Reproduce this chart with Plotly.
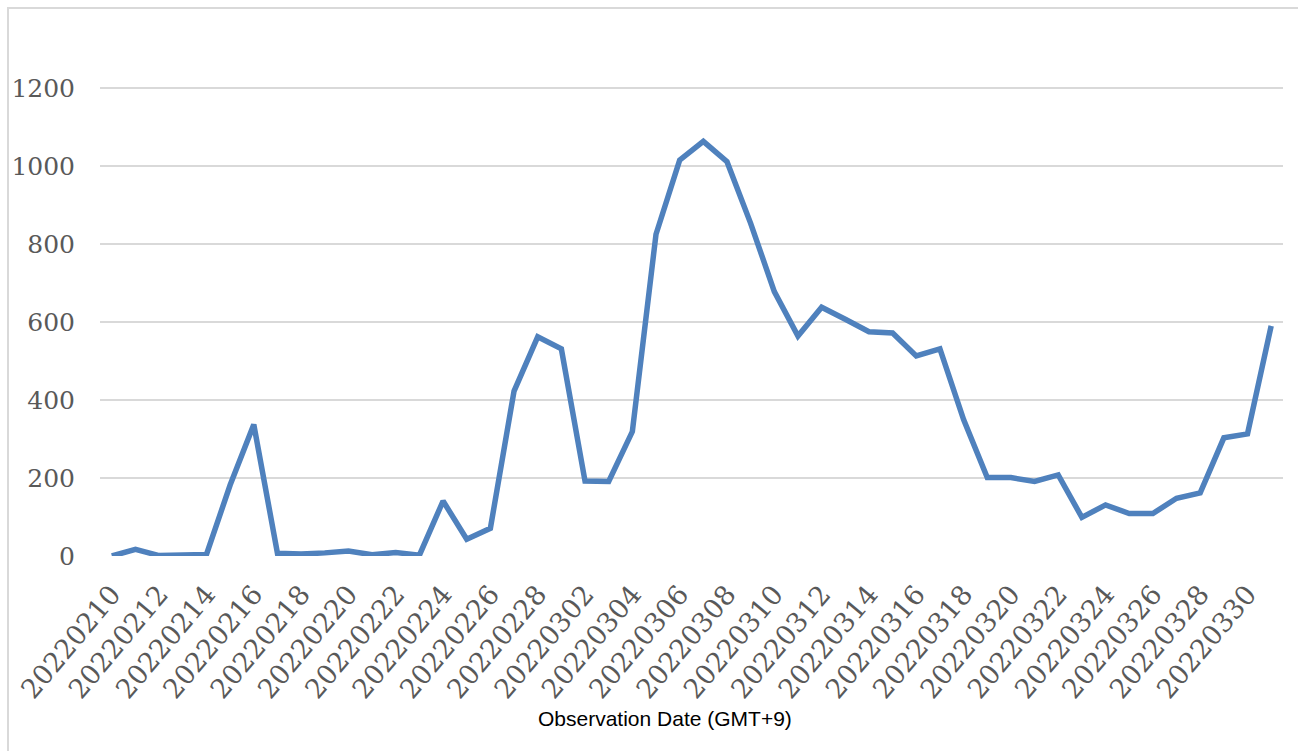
import pandas as pd
import plotly.graph_objects as go

# Daily observation dates (GMT+9), 2022-02-10 .. 2022-03-31
dates = [d.strftime("%Y%m%d") for d in pd.date_range("2022-02-10", "2022-03-31", freq="D")]

# Daily counts
counts = [
    0, 17, 1, 2, 4, 182, 337, 7, 5, 8,
    13, 3, 9, 2, 141, 43, 71, 423, 562, 531,
    192, 191, 319, 825, 1015, 1063, 1011, 853, 678, 564,
    638, 607, 575, 572, 513, 531, 350, 201, 201, 191,
    208, 99, 131, 109, 109, 148, 162, 303, 313, 590,
]

# Every second date is labelled on the axis
tick_labels = dates[::2]
y_ticks = [0, 200, 400, 600, 800, 1000, 1200]

W, H = 1298, 751
L, R, T, B = 100, 15, 10, 195
plot_w = W - L - R
plot_h = H - T - B

def px_x(px):
    return (px - L) / plot_w

def px_y(py):
    return (H - B - py) / plot_h

fig = go.Figure(
    go.Scatter(
        x=dates,
        y=counts,
        mode="lines",
        line=dict(color="#4F81BD", width=5.5),
        hoverinfo="x+y",
    )
)

fig.update_layout(
    width=W,
    height=H,
    margin=dict(l=L, r=R, t=T, b=B),
    paper_bgcolor="white",
    plot_bgcolor="white",
    showlegend=False,
    xaxis=dict(
        type="category",
        range=[-0.5, len(dates) - 0.5],
        tickvals=tick_labels,
        ticktext=tick_labels,
        tickangle=-50,
        tickfont=dict(family="DejaVu Serif", size=27, color="#595959"),
        showgrid=False,
        showline=False,
        zeroline=False,
        ticks="",
        ticklabelstandoff=16,
    ),
    yaxis=dict(
        range=[0, 1400],
        tickvals=y_ticks,
        ticktext=[str(v) for v in y_ticks],
        tickfont=dict(family="DejaVu Serif", size=25, color="#595959"),
        showgrid=True,
        gridcolor="#D9D9D9",
        gridwidth=2,
        zeroline=False,
        showline=False,
        ticks="",
        ticklabelstandoff=24,
    ),
    shapes=[
        dict(
            type="path",
            xref="paper",
            yref="paper",
            path=f"M {px_x(8)} {px_y(H + 5)} L {px_x(8)} {px_y(8)} L {px_x(W + 5)} {px_y(8)}",
            line=dict(color="#D9D9D9", width=2),
        )
    ],
    annotations=[
        dict(
            text="Observation Date (GMT+9)",
            xref="paper",
            yref="paper",
            x=px_x(665),
            y=px_y(718),
            xanchor="center",
            yanchor="middle",
            showarrow=False,
            font=dict(family="Liberation Sans", size=21, color="black"),
        )
    ],
)

fig.write_html("out.html")
